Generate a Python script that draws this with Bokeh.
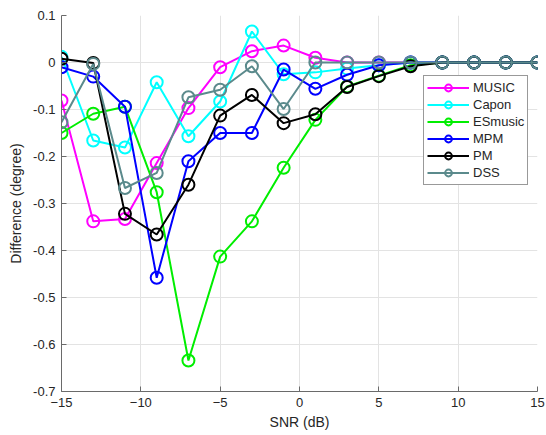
from bokeh.plotting import figure
from bokeh.models import FixedTicker, Range1d, Legend, LegendItem
from bokeh.embed import file_html
from bokeh.resources import INLINE

# SNR values (dB)
snr = [-15, -13, -11, -9, -7, -5, -3, -1, 1, 3, 5, 7, 9, 11, 13, 15]

# Estimation difference (degree) per method
music = [-0.081, -0.338, -0.333, -0.214, -0.097, -0.010, 0.024, 0.036, 0.010, 0.0, 0.0, 0.0, 0.0, 0.0, 0.0, 0.0]
capon = [0.012, -0.166, -0.181, -0.042, -0.157, -0.083, 0.066, -0.025, -0.021, -0.013, -0.006, 0.0, 0.0, 0.0, 0.0, 0.0]
esmusic = [-0.150, -0.109, -0.094, -0.276, -0.634, -0.413, -0.338, -0.224, -0.122, -0.051, -0.028, -0.006, 0.0, 0.0, 0.0, 0.0]
mpm = [-0.010, -0.030, -0.094, -0.458, -0.210, -0.150, -0.150, -0.015, -0.056, -0.026, -0.006, 0.0, 0.0, 0.0, 0.0, 0.0]
pm = [0.008, -0.001, -0.322, -0.366, -0.260, -0.113, -0.069, -0.129, -0.110, -0.052, -0.029, -0.008, 0.0, 0.0, 0.0, 0.0]
dss = [-0.127, -0.003, -0.267, -0.235, -0.074, -0.058, -0.008, -0.099, 0.0, 0.0, 0.0, 0.0, 0.0, 0.0, 0.0, 0.0]

series_names = ["MUSIC", "Capon", "ESmusic", "MPM", "PM", "DSS"]
series_values = [music, capon, esmusic, mpm, pm, dss]
series_colors = ["#ff00ff", "#00ffff", "#00ee00", "#0000ff", "#000000", "#5b8a8c"]

x_ticks = [-15, -10, -5, 0, 5, 10, 15]
y_ticks = [0.1, 0.0, -0.1, -0.2, -0.3, -0.4, -0.5, -0.6, -0.7]
y_tick_labels = ["0.1", "0", "-0.1", "-0.2", "-0.3", "-0.4", "-0.5", "-0.6", "-0.7"]

FONT = "Liberation Sans"
AXIS_COLOR = "#6a6a6a"
TEXT_COLOR = "#262626"

p = figure(width=546, height=435, output_backend="svg", toolbar_location=None,
           x_range=Range1d(-15, 15), y_range=Range1d(-0.7, 0.1),
           min_border_left=61, min_border_right=9, min_border_top=15,
           min_border_bottom=44)
p.outline_line_color = None
p.background_fill_color = "white"
p.border_fill_color = "white"

p.xaxis.ticker = FixedTicker(ticks=x_ticks)
p.yaxis.ticker = FixedTicker(ticks=y_ticks)
p.yaxis.major_label_overrides = {t: l for t, l in zip(y_ticks, y_tick_labels)}
p.xaxis.axis_label = "SNR (dB)"
p.yaxis.axis_label = "Difference (degree)"

for ax in (p.xaxis[0], p.yaxis[0]):
    ax.axis_line_color = AXIS_COLOR
    ax.axis_line_width = 1
    ax.major_tick_line_color = AXIS_COLOR
    ax.major_tick_in = 5
    ax.major_tick_out = 0
    ax.minor_tick_line_color = None
    ax.major_label_text_font = FONT
    ax.major_label_text_font_size = "13px"
    ax.major_label_text_color = TEXT_COLOR
    ax.axis_label_text_font = FONT
    ax.axis_label_text_font_size = "14px"
    ax.axis_label_text_font_style = "normal"
    ax.axis_label_text_color = TEXT_COLOR
p.xaxis.major_label_standoff = 6
p.xaxis.axis_label_standoff = 4
p.yaxis.major_label_standoff = 6
p.yaxis.axis_label_standoff = 6

p.xgrid.grid_line_color = "#e3e3e3"
p.ygrid.grid_line_color = "#e3e3e3"

items = []
for name, vals, col in zip(series_names, series_values, series_colors):
    ln = p.line(snr, vals, line_color=col, line_width=2)
    sc = p.scatter(snr, vals, marker="circle", size=12, fill_color=None,
                   line_color=col, line_width=2)
    items.append(LegendItem(label=name, renderers=[ln, sc]))

legend = Legend(items=items, location=(362, 206))
legend.border_line_color = "#333333"
legend.border_line_width = 1
legend.background_fill_color = "white"
legend.background_fill_alpha = 1
legend.label_text_font = FONT
legend.label_text_font_size = "13px"
legend.label_text_color = TEXT_COLOR
legend.glyph_width = 42
legend.glyph_height = 17
legend.label_height = 17
legend.label_standoff = 4
legend.spacing = 0
legend.padding = 3
legend.margin = 0
p.add_layout(legend)

open("out.html", "w").write(file_html(p, INLINE))
